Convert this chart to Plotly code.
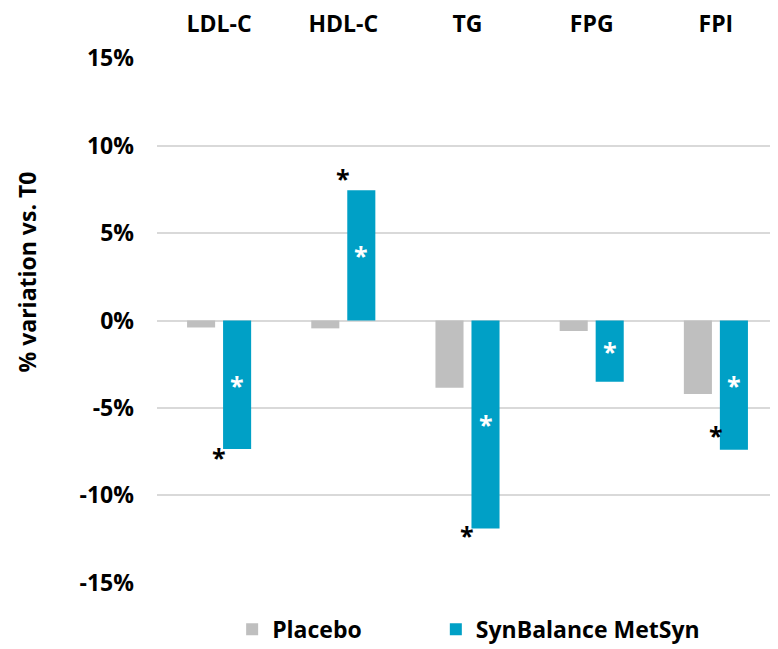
import plotly.graph_objects as go

categories = ["LDL-C", "HDL-C", "TG", "FPG", "FPI"]
placebo = [-0.4, -0.45, -3.85, -0.6, -4.2]
metsyn = [-7.35, 7.45, -11.9, -3.5, -7.4]
# within-group significance (white asterisks in MetSyn bars)
metsyn_sig = [True, True, True, True, True]
# between-group significance (black asterisks)
between_sig = [True, True, True, False, True]
between_offset = [-0.45, 0.71, -0.38, 0.0, 0.86]  # shift of black asterisk from bar end (% units)

yticks = [-15, -10, -5, 0, 5, 10, 15]
ytick_labels = [f"{v}%" for v in yticks]

GREY = "#bfbfbf"
BLUE = "#00a0c6"
FONT = "Open Sans"
FS = 23

BAR_W = 0.226
PL_OFF = -0.258
MS_OFF = 0.032

fig = go.Figure()
fig.add_trace(go.Bar(
    name="<b>Placebo</b>", x=categories, y=placebo, marker_color=GREY,
    marker_line_width=0, width=BAR_W, offset=PL_OFF, legend="legend",
))
fig.add_trace(go.Bar(
    name="<b>SynBalance MetSyn</b>", x=categories, y=metsyn, marker_color=BLUE,
    marker_line_width=0, width=BAR_W, offset=MS_OFF, legend="legend2",
))

annotations = []
for i, (v, s) in enumerate(zip(metsyn, metsyn_sig)):
    if s:
        annotations.append(dict(
            x=i + MS_OFF + BAR_W / 2, y=v / 2, xref="x", yref="y",
            text="<b>*</b>", showarrow=False,
            font=dict(family=FONT, size=25, color="white"),
        ))
for i, (v, s, o) in enumerate(zip(metsyn, between_sig, between_offset)):
    if s:
        annotations.append(dict(
            x=i - 0.002, y=v + o, xref="x", yref="y",
            text="<b>*</b>", showarrow=False,
            font=dict(family=FONT, size=25, color="black"),
        ))
annotations.append(dict(
    x=0, y=0.5, xref="paper", yref="paper", xshift=-131, yshift=48,
    xanchor="center", yanchor="middle",
    text="<b>% variation vs. T0</b>", textangle=-90, showarrow=False,
    font=dict(family=FONT, size=23, color="black"),
))

legend_style = dict(
    orientation="h", y=-0.088, yanchor="middle", xanchor="left",
    font=dict(family=FONT, size=FS, color="black"),
    itemwidth=30, bgcolor="rgba(0,0,0,0)",
)

# the page body adds an 8px offset, so the figure is drawn 8px smaller
fig.update_layout(
    width=770, height=641,
    margin=dict(l=149, r=0, t=50, b=66, autoexpand=False),
    paper_bgcolor="white", plot_bgcolor="white",
    barmode="overlay",
    font=dict(family=FONT, size=FS, color="black"),
    showlegend=True,
    legend=dict(x=0.121, **legend_style),
    legend2=dict(x=0.449, **legend_style),
    annotations=annotations,
)
fig.update_xaxes(
    side="top", range=[-0.5, 4.5], showgrid=False, showline=False,
    zeroline=False, ticks="", automargin=False,
    tickfont=dict(family=FONT, size=FS, color="black"),
    tickprefix="<b>", ticksuffix="</b>", ticklabelstandoff=20,
)
fig.update_yaxes(
    range=[-15.02, 15.02], tickvals=yticks,
    ticktext=[f"<b>{t}</b>" for t in ytick_labels],
    showgrid=True, gridcolor="#d9d9d9", gridwidth=1.5,
    zeroline=True, zerolinecolor="#d9d9d9", zerolinewidth=1.5,
    showline=False, ticks="", ticklabelstandoff=22, automargin=False,
    tickfont=dict(family=FONT, size=FS, color="black"),
)

fig.write_html("out.html")
